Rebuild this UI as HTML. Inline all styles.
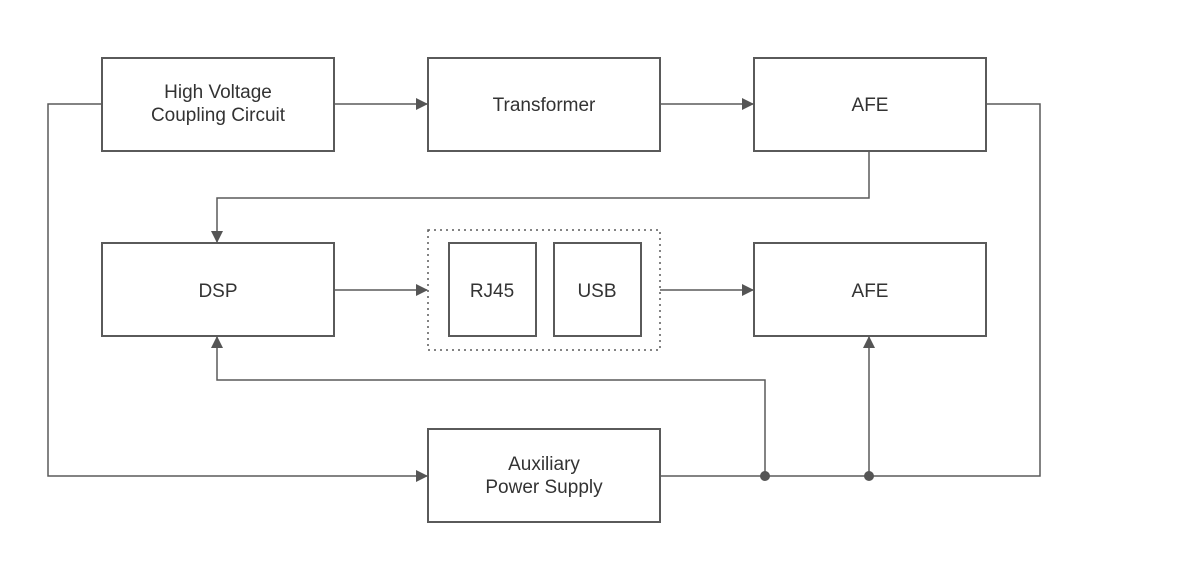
<!DOCTYPE html>
<html><head><meta charset="utf-8"><style>
html,body{margin:0;padding:0;background:#fff;}
svg{display:block;}
text{font-family:"Liberation Sans","Noto Sans CJK SC",sans-serif;font-size:19px;fill:#333;text-anchor:middle;}
</style></head><body>
<svg width="1199" height="575" viewBox="0 0 1199 575">
<defs><marker id="a" markerWidth="12" markerHeight="12" refX="11" refY="6" orient="auto" markerUnits="userSpaceOnUse"><path d="M0,0 L12,6 L0,12 z" fill="#555"/></marker></defs>
<g fill="none" stroke="#5a5a5a" stroke-width="2">
<rect x="102" y="58" width="232" height="93"/>
<rect x="428" y="58" width="232" height="93"/>
<rect x="754" y="58" width="232" height="93"/>
<rect x="102" y="243" width="232" height="93"/>
<rect x="449" y="243" width="87" height="93"/>
<rect x="554" y="243" width="87" height="93"/>
<rect x="754" y="243" width="232" height="93"/>
<rect x="428" y="429" width="232" height="93"/>
<rect x="428" y="230" width="232" height="120" stroke-dasharray="2,4" stroke-width="1.5"/>
<g stroke-width="1.5">
<path d="M334,104 H427" marker-end="url(#a)"/>
<path d="M660,104 H753" marker-end="url(#a)"/>
<path d="M869,151 V198 H217 V242" marker-end="url(#a)"/>
<path d="M334,290 H427" marker-end="url(#a)"/>
<path d="M660,290 H753" marker-end="url(#a)"/>
<path d="M102,104 H48 V476 H427" marker-end="url(#a)"/>
<path d="M986,104 H1040 V476 H660"/>
<path d="M765,476 V380 H217 V337" marker-end="url(#a)"/>
<path d="M869,476 V337" marker-end="url(#a)"/>
</g>
</g>
<circle cx="765" cy="476" r="5" fill="#555"/>
<circle cx="869" cy="476" r="5" fill="#555"/>
<text x="218" y="98">High Voltage</text>
<text x="218" y="121">Coupling Circuit</text>
<text x="544" y="111">Transformer</text>
<text x="870" y="111">AFE</text>
<text x="218" y="297">DSP</text>
<text x="492" y="297">RJ45</text>
<text x="597" y="297">USB</text>
<text x="870" y="297">AFE</text>
<text x="544" y="470">Auxiliary</text>
<text x="544" y="493">Power Supply</text>
</svg>
</body></html>
